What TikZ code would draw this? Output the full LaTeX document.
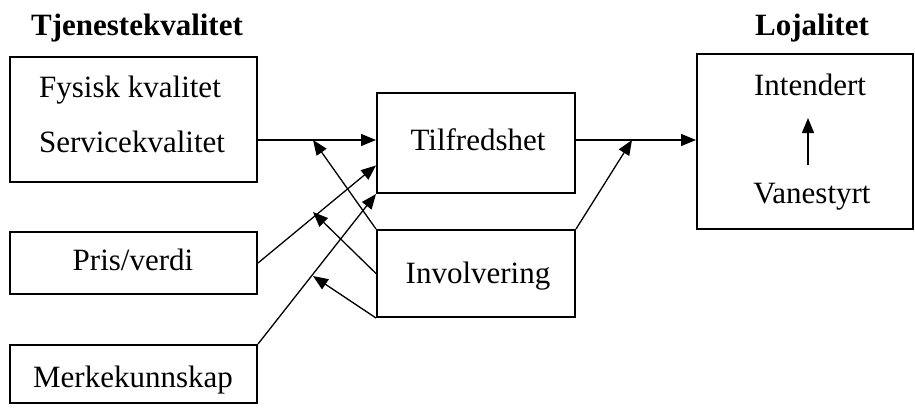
\documentclass[tikz,border=0pt]{standalone}
\usepackage{fontspec}
\setmainfont{Liberation Serif}
\usetikzlibrary{arrows.meta,calc}
\begin{document}
\begin{tikzpicture}[x=1pt,y=-1pt,
  box/.style={draw,line width=2pt,inner sep=0pt},
  lbl/.style={font=\fontsize{31}{36}\selectfont,anchor=base,inner sep=0pt},
  ttl/.style={font=\fontsize{31}{36}\selectfont\bfseries,anchor=base,inner sep=0pt},
  arr/.style={line width=1.3pt,-{Triangle[length=15pt,width=12pt]}},
  ln/.style={line width=1.3pt}]
\useasboundingbox (0,0) rectangle (915,408);
% boxes
\node[box,minimum width=247pt,minimum height=125pt] (kval) at (133.5,119.5) {};
\node[box,minimum width=247pt,minimum height=62pt] (pris) at (133.5,263) {};
\node[box,minimum width=247pt,minimum height=58pt] (merke) at (133.5,374) {};
\node[box,minimum width=198pt,minimum height=100pt] (tilf) at (476,143) {};
\node[box,minimum width=198pt,minimum height=87pt] (inv) at (476,273.5) {};
\node[box,minimum width=216pt,minimum height=175pt] (loj) at (805,141.5) {};
% texts
\node[ttl] (t1) at (137,35) {Tjenestekvalitet};
\node[ttl] (t2) at (812,35) {Lojalitet};
\node[lbl] (fys) at (130,97) {Fysisk kvalitet};
\node[lbl] (serv) at (132,152) {Servicekvalitet};
\node[lbl] (prisT) at (133,270) {Pris/verdi};
\node[lbl] (merkeT) at (133,387) {Merkekunnskap};
\node[lbl] (tilfT) at (478,150) {Tilfredshet};
\node[lbl] (invT) at (478,283) {Involvering};
\node[lbl] (int) at (810,95) {Intendert};
\node[lbl] (vane) at (812,203) {Vanestyrt};
% internal arrow
\coordinate (va) at (808,165);
\coordinate (vb) at (808,118);
\draw[arr] (va) -- (vb);
% connector coordinates
\coordinate (c1) at (313,140);
\coordinate (c2) at (313,212);
\coordinate (c3) at (313,276);
\coordinate (c4) at (632,140);
\coordinate (kout) at (kval.east |- 0,140);
\coordinate (tin) at (tilf.west |- 0,140);
\coordinate (tout) at (tilf.east |- 0,140);
\coordinate (lin) at (loj.west |- 0,140);
\coordinate (tp) at ($(tilf.south west)!0.28!(tilf.north west)$);
% connectors
\draw[arr] (kout) -- (tin);
\draw[arr] (pris.east) -- (tp);
\draw[arr] (merke.north east) -- (tilf.south west);
\draw[arr] (inv.north west) -- (c1);
\draw[arr] (inv.west) -- (c2);
\draw[arr] (inv.south west) -- (c3);
\draw[arr] (tout) -- (lin);
\draw[arr] (inv.north east) -- (c4);
\end{tikzpicture}
\end{document}
